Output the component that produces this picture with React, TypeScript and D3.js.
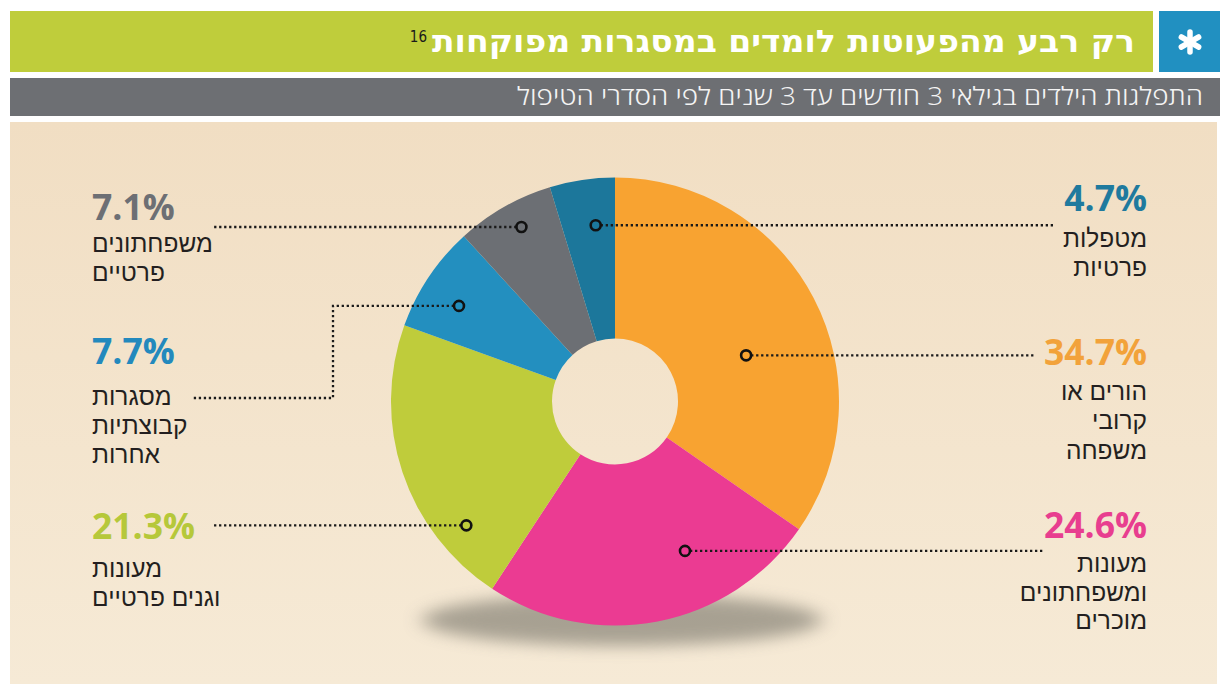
import React from 'react';
import * as d3 from 'd3';

// ---- data ----
const categories = [
  'הורים או קרובי משפחה',
  'מעונות ומשפחתונים מוכרים',
  'מעונות וגנים פרטיים',
  'מסגרות קבוצתיות אחרות',
  'משפחתונים פרטיים',
  'מטפלות פרטיות',
];
const values = [34.7, 24.6, 21.3, 7.7, 7.1, 4.7];
const labelLines = [
  ['הורים או', 'קרובי', 'משפחה'],
  ['מעונות', 'ומשפחתונים', 'מוכרים'],
  ['מעונות', 'וגנים פרטיים'],
  ['מסגרות', 'קבוצתיות', 'אחרות'],
  ['משפחתונים', 'פרטיים'],
  ['מטפלות', 'פרטיות'],
];
const titleText = 'רק רבע מהפעוטות לומדים במסגרות מפוקחות';
const footnoteRef = '16';
const subtitleText = 'התפלגות הילדים בגילאי 3 חודשים עד 3 שנים לפי הסדרי הטיפול';

// ---- styles / layout ----
const sliceColors = ['#F8A331', '#EB3B92', '#BFCC3B', '#238FBF', '#6C6F74', '#1C779B'];
const pctColors = ['#F2A23A', '#E83E8F', '#B6C83A', '#2389BD', '#6D6F74', '#1F7A9E'];

const W = 1228;
const H = 684;
const cx = 615;
const cy = 401.5;
const outerR = 224;
const innerR = 63;

type Layout = {
  side: 'left' | 'right';
  pctY: number;
  lineYs: number[];
  markerAngle: number; // degrees, clockwise from top
  markerR: number;
  leader: [number, number | null][]; // null y => same as marker y
};
const layouts: Layout[] = [
  { side: 'right', pctY: 365, lineYs: [400, 429, 459], markerAngle: 70.6, markerR: 139, leader: [[1035, null]] },
  { side: 'right', pctY: 538, lineYs: [572, 601, 629], markerAngle: 154.9, markerR: 165, leader: [[1043, null]] },
  { side: 'left', pctY: 539, lineYs: [577, 606], markerAngle: 230.2, markerR: 193.5, leader: [[213, null]] },
  { side: 'left', pctY: 364, lineYs: [405, 434, 463], markerAngle: 301.5, markerR: 183, leader: [[333, null], [333, 398], [193, 398]] },
  { side: 'left', pctY: 220, lineYs: [252, 281], markerAngle: 331.8, markerR: 198, leader: [[213, null]] },
  { side: 'right', pctY: 211, lineYs: [247, 276], markerAngle: 353.75, markerR: 177.3, leader: [[1053, null]] },
];
const leftX = 92;
const rightX = 1147;

const hebFont = "'Liberation Sans', 'DejaVu Sans', sans-serif";
const numFont = "'Open Sans', 'Noto Sans', sans-serif";

export default function App() {
  const pie = d3.pie<number>().sort(null).value((d) => d).startAngle(0).endAngle(2 * Math.PI);
  const arcs = pie(values);
  const arcGen = d3.arc<d3.PieArcDatum<number>>().innerRadius(innerR).outerRadius(outerR);

  const markers = layouts.map((l) => {
    const a = (l.markerAngle * Math.PI) / 180;
    return [cx + l.markerR * Math.sin(a), cy - l.markerR * Math.cos(a)] as [number, number];
  });

  const line = d3.line<[number, number]>();

  return (
    <svg
      width={W}
      height={H}
      viewBox={`0 0 ${W} ${H}`}
      style={{ position: 'absolute', left: 0, top: 0, background: '#fff' }}
    >
      <defs>
        <linearGradient id="bg" x1="0" y1="0" x2="0" y2="1">
          <stop offset="0" stopColor="#F1DEC3" />
          <stop offset="1" stopColor="#F6EAD6" />
        </linearGradient>
        <filter id="blur" x="-30%" y="-100%" width="160%" height="300%">
          <feGaussianBlur stdDeviation="10 8" />
        </filter>
      </defs>

      {/* header */}
      <rect x={10} y={11} width={1143} height={61} fill="#BFCD3B" />
      <rect x={1159} y={11} width={61} height={61} fill="#2190C1" />
      <g transform="translate(1190,42)" stroke="#fff" strokeWidth={5.5} strokeLinecap="round">
        {[0, 60, 120].map((r) => (
          <line key={r} x1={0} y1={-10} x2={0} y2={10} transform={`rotate(${r})`} />
        ))}
      </g>
      <text
        x={432}
        y={52}
        fontFamily="'DejaVu Sans Condensed', 'DejaVu Sans', sans-serif"
        fontWeight="bold"
        fontSize={31}
        fill="#fff"
        textLength={703}
        lengthAdjust="spacingAndGlyphs"
      >
        {titleText}
      </text>
      <text x={427} y={42} textAnchor="end" fontFamily="'Liberation Sans Narrow', 'DejaVu Sans Condensed', sans-serif" fontSize={15} fill="#1a1a1a">
        {footnoteRef}
      </text>

      <rect x={10} y={78} width={1210} height={38} fill="#6D6F73" />
      <text
        x={517}
        y={105}
        fontFamily="'Open Sans', 'DejaVu Sans', sans-serif"
        fontWeight={300}
        fontSize={25}
        fill="#F4F4F4"
        textLength={686}
        lengthAdjust="spacingAndGlyphs"
      >
        {subtitleText}
      </text>

      {/* panel */}
      <rect x={10} y={122} width={1207} height={562} fill="url(#bg)" />

      {/* shadow */}
      <ellipse cx={622} cy={620} rx={200} ry={26} fill="#8E897D" opacity={0.75} filter="url(#blur)" />

      {/* donut */}
      <g transform={`translate(${cx},${cy})`}>
        {arcs.map((a, i) => (
          <path key={categories[i]} d={arcGen(a) || ''} fill={sliceColors[i]} />
        ))}
      </g>

      {/* leaders */}
      {layouts.map((l, i) => {
        const [mx, my] = markers[i];
        const pts: [number, number][] = [[mx, my], ...l.leader.map(([x, y]) => [x, y === null ? my : y] as [number, number])];
        return (
          <path
            key={'ld' + i}
            d={line(pts) || ''}
            fill="none"
            stroke="#1a1a1a"
            strokeWidth={2.3}
            strokeDasharray="2.3 2.7"
          />
        );
      })}
      {markers.map(([mx, my], i) => (
        <circle key={'mk' + i} cx={mx} cy={my} r={5} fill={sliceColors[i]} stroke="#111" strokeWidth={2.6} />
      ))}

      {/* labels */}
      {layouts.map((l, i) => {
        const x = l.side === 'left' ? leftX : rightX;
        const anchor = l.side === 'left' ? 'start' : 'end';
        return (
          <g key={'lb' + i}>
            <text x={x} y={l.pctY} textAnchor={anchor} fontFamily={numFont} fontWeight="bold" fontSize={35.5} fill={pctColors[i]}>
              {`${values[i]}%`}
            </text>
            {labelLines[i].map((t, j) => (
              <text key={j} x={x} y={l.lineYs[j]} textAnchor={anchor} fontFamily={hebFont} fontSize={24.5} fill="#231F20">
                {t}
              </text>
            ))}
          </g>
        );
      })}
    </svg>
  );
}
